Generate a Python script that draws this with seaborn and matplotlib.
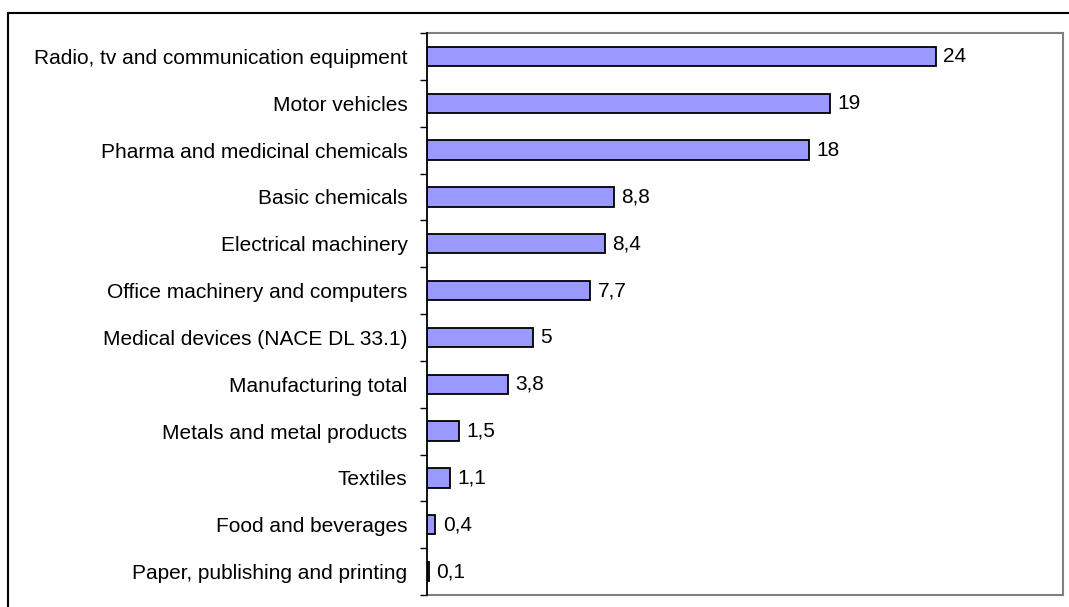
import matplotlib
matplotlib.use("Agg")
import matplotlib.pyplot as plt
import seaborn as sns
import pandas as pd
from matplotlib.patches import Rectangle

sectors = [
    "Radio, tv and communication equipment",
    "Motor vehicles",
    "Pharma and medicinal chemicals",
    "Basic chemicals",
    "Electrical machinery",
    "Office machinery and computers",
    "Medical devices (NACE DL 33.1)",
    "Manufacturing total",
    "Metals and metal products",
    "Textiles",
    "Food and beverages",
    "Paper, publishing and printing",
]
values = [24, 19, 18, 8.8, 8.4, 7.7, 5, 3.8, 1.5, 1.1, 0.4, 0.1]
value_labels = ["24", "19", "18", "8,8", "8,4", "7,7", "5", "3,8", "1,5", "1,1", "0,4", "0,1"]

df = pd.DataFrame({"sector": sectors, "value": values})

sns.set_theme(style="white")
plt.rcParams["font.family"] = ["Liberation Sans", "DejaVu Sans"]

FS = 15
W, H = 1069, 607
fig = plt.figure(figsize=(W / 100, H / 100), dpi=100)
ax = fig.add_axes([427 / W, 1 - 595 / H, (1063 - 427) / W, (595 - 33) / H])

sns.barplot(data=df, x="value", y="sector", orient="h", ax=ax,
            color="#9999FF", saturation=1, width=0.41,
            edgecolor="black", linewidth=1.3)

ax.set_xlim(0, 30)
ax.set_ylim(len(sectors) - 0.5, -0.5)
ax.set_xlabel("")
ax.set_ylabel("")
ax.set_xticks([])

# category labels at bar centres, tick marks at the boundaries
ax.set_yticks(range(len(sectors)))
ax.set_yticklabels(sectors, fontsize=FS, color="black")
ax.tick_params(axis="y", which="major", length=0, pad=14)
ax.set_yticks([i - 0.5 for i in range(len(sectors) + 1)], minor=True)
ax.tick_params(axis="y", which="minor", length=5, width=1, color="black", direction="out", left=True)

for side in ["top", "right", "bottom"]:
    ax.spines[side].set_color("#808080")
    ax.spines[side].set_linewidth(1.5)
ax.spines["left"].set_color("black")
ax.spines["left"].set_linewidth(1.3)
ax.spines["left"].set_zorder(5)

for i, (v, lab) in enumerate(zip(values, value_labels)):
    ax.text(v + 0.35, i, lab, va="center", ha="left", fontsize=FS, color="black")

# outer frame of the chart
fig.patches.append(Rectangle((8 / W, -0.1), 1.2, (1 - 13 / H) + 0.1,
                             transform=fig.transFigure, fill=False,
                             edgecolor="black", linewidth=1.5))

fig.savefig("out.png", dpi=100)
